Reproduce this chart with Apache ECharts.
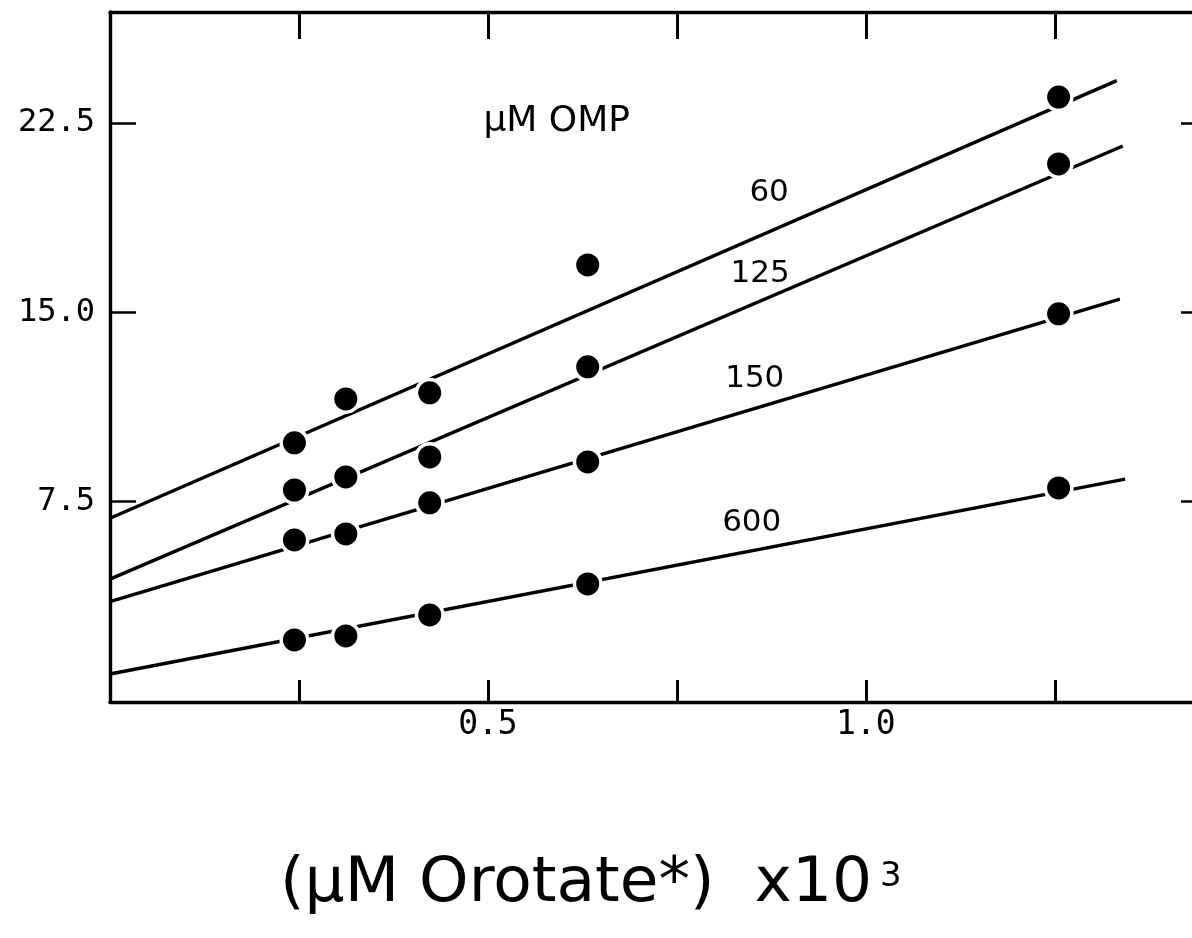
<!DOCTYPE html>
<html>
<head>
<meta charset="utf-8">
<script src="https://cdn.jsdelivr.net/npm/echarts@6/dist/echarts.min.js"></script>
<style>
  html, body { margin: 0; padding: 0; background: #fff; overflow: hidden; }
  #chart { width: 1220px; height: 938px; }
</style>
</head>
<body>
<div id="chart"></div>
<script>
// Orotate concentration axis values (x10^3)
const orotate = [0.244, 0.312, 0.423, 0.632, 1.255];

// Measured values at each OMP concentration
const v60  = [9.83, 11.57, 11.81, 16.88, 23.53];
const v125 = [7.96, 8.48, 9.27, 12.84, 20.88];
const v150 = [5.98, 6.22, 7.45, 9.07, 14.94];
const v600 = [2.02, 2.18, 3.01, 4.24, 8.04];

// Fitted lines: start and end points
const fit60  = [[0, 6.84], [1.332, 24.18]];
const fit125 = [[0, 4.43], [1.340, 21.59]];
const fit150 = [[0, 3.54], [1.336, 15.52]];
const fit600 = [[0, 0.67], [1.343, 8.39]];

const ompLevels = ['60', '125', '150', '600'];
const legendTitle = 'μM OMP';

const xTicks = [0.25, 0.5, 0.75, 1.0, 1.25];
const xTickLabels = [0.5, 1.0];
const yTicks = [7.5, 15.0, 22.5];

const INK = '#000';
const tickFont = 'DejaVu Sans Mono';
const labelFont = 'DejaVu Sans';

function pairs(xs, ys) { return xs.map((x, i) => [x, ys[i]]); }

// Drawn bottom to top so each halo only breaks its own line and those beneath it
const groups = [
  { name: '600', fit: fit600, pts: pairs(orotate, v600) },
  { name: '150', fit: fit150, pts: pairs(orotate, v150) },
  { name: '125', fit: fit125, pts: pairs(orotate, v125) },
  { name: '60',  fit: fit60,  pts: pairs(orotate, v60) }
];

const series = [];
groups.forEach((g, i) => {
  const base = 2 + i * 3;
  series.push({
    type: 'line', name: g.name + ' fit', data: g.fit, z: base,
    showSymbol: false, symbol: 'none', silent: true,
    lineStyle: { color: INK, width: 3.4 }
  });
  series.push({
    type: 'scatter', name: g.name + ' gap', data: g.pts, z: base + 1,
    symbol: 'circle', symbolSize: 30, silent: true,
    itemStyle: { color: '#fff', opacity: 1 }
  });
});
groups.forEach(g => {
  series.push({
    type: 'scatter', name: g.name, data: g.pts, z: 20,
    symbol: 'circle', symbolSize: 23,
    itemStyle: { color: INK, opacity: 1 }
  });
});

// Line labels and the key heading
series.push({
  type: 'scatter', name: 'labels', z: 21, symbolSize: 0, silent: true,
  itemStyle: { color: INK, opacity: 1 },
  data: [
    { value: [0.591, 22.54], name: legendTitle, label: { fontSize: 36 } },
    { value: [0.872, 19.73], name: ompLevels[0] },
    { value: [0.860, 16.52], name: ompLevels[1] },
    { value: [0.853, 12.36], name: ompLevels[2] },
    { value: [0.849, 6.66],  name: ompLevels[3] }
  ],
  label: {
    show: true, position: 'inside', formatter: p => p.name,
    color: INK, fontFamily: labelFont, fontSize: 31
  }
});

const fmt1 = v => Number(v).toFixed(1);
const X_MIN = 0, X_MAX = 1.45, Y_MIN = -0.44, Y_MAX = 26.9;
const axisLine = { show: true, onZero: false, lineStyle: { color: INK, width: 3.4 } };

const chart = echarts.init(document.getElementById('chart'), null, { renderer: 'canvas' });
chart.setOption({
  animation: false,
  backgroundColor: '#fff',
  grid: { left: 110, top: 12, right: 14, bottom: 236, containLabel: false },
  xAxis: [
    {
      type: 'value', position: 'bottom', min: X_MIN, max: X_MAX,
      axisLine: axisLine,
      axisTick: { show: true, inside: true, length: 22, customValues: xTicks,
                  lineStyle: { color: INK, width: 3 } },
      axisLabel: { show: true, customValues: xTickLabels, formatter: fmt1, margin: 7,
                   color: INK, fontFamily: tickFont, fontSize: 33 },
      splitLine: { show: false }
    },
    {
      type: 'value', position: 'top', min: X_MIN, max: X_MAX,
      axisLine: axisLine,
      axisTick: { show: true, inside: true, length: 27, customValues: xTicks,
                  lineStyle: { color: INK, width: 3 } },
      axisLabel: { show: false },
      splitLine: { show: false }
    }
  ],
  yAxis: [
    {
      type: 'value', position: 'left', min: Y_MIN, max: Y_MAX,
      axisLine: axisLine,
      axisTick: { show: true, inside: true, length: 26, customValues: yTicks,
                  lineStyle: { color: INK, width: 2.5 } },
      axisLabel: { show: true, customValues: yTicks, formatter: fmt1, margin: 15,
                   color: INK, fontFamily: tickFont, fontSize: 32 },
      splitLine: { show: false }
    },
    {
      type: 'value', position: 'right', min: Y_MIN, max: Y_MAX,
      axisLine: axisLine,
      axisTick: { show: true, inside: true, length: 25, customValues: yTicks,
                  lineStyle: { color: INK, width: 2.5 } },
      axisLabel: { show: false },
      splitLine: { show: false }
    }
  ],
  graphic: [
    {
      type: 'text', left: 280, top: 848, silent: true,
      style: {
        text: '{m|(μM Orotate*)  x10}{s|3}',
        fill: INK,
        rich: {
          m: { fontFamily: labelFont, fontSize: 63, lineHeight: 74, fill: INK },
          s: { fontFamily: labelFont, fontSize: 34, lineHeight: 40, verticalAlign: 'top', fill: INK, padding: [12, 0, 0, 8] }
        }
      }
    }
  ],
  series: series
});
</script>
</body>
</html>
